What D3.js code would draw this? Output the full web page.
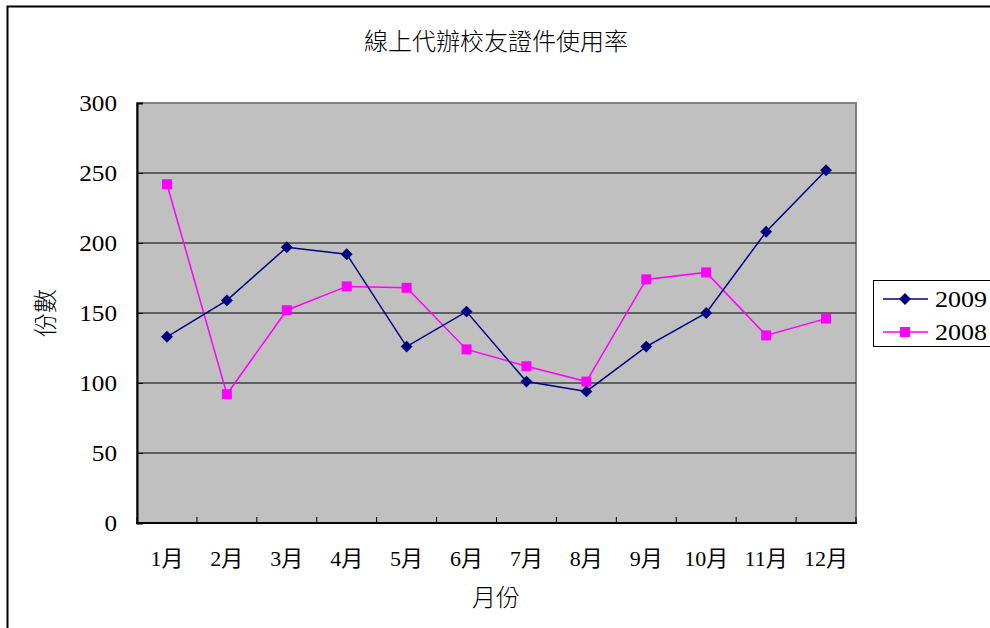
<!DOCTYPE html>
<html>
<head>
<meta charset="utf-8">
<script src="https://cdn.jsdelivr.net/npm/d3@7"></script>
<style>
  body { margin: 0; background: #fff; }
  svg text { font-family: 'Liberation Serif', 'Noto Sans CJK TC', serif; fill: #000; }
</style>
</head>
<body>
<div id="chart"></div>
<script>
const months = ['1月', '2月', '3月', '4月', '5月', '6月', '7月', '8月', '9月', '10月', '11月', '12月'];
const values2009 = [133, 159, 197, 192, 126, 151, 101, 94, 126, 150, 208, 252];
const values2008 = [242, 92, 152, 169, 168, 124, 112, 101, 174, 179, 134, 146];
const yTicks = [0, 50, 100, 150, 200, 250, 300];

const width = 990, height = 628;
const plot = { left: 137, top: 103, right: 856, bottom: 523 };

const svg = d3.select('#chart')
  .append('svg')
  .attr('width', width)
  .attr('height', height);

// outer chart border (top and left only are visible)
svg.append('path')
  .attr('d', `M7.5,${height} V6.5 H${width}`)
  .attr('fill', 'none')
  .attr('stroke', '#000')
  .attr('stroke-width', 2);

svg.append('text')
  .attr('x', 496)
  .attr('y', 50)
  .attr('text-anchor', 'middle')
  .attr('font-size', 24)
  .attr('font-weight', 300)
  .text('線上代辦校友證件使用率');

const x = d3.scaleBand().domain(months).range([plot.left, plot.right]);
const y = d3.scaleLinear().domain([0, 300]).range([plot.bottom, plot.top]);

// plot area
svg.append('rect')
  .attr('x', plot.left)
  .attr('y', plot.top)
  .attr('width', plot.right - plot.left)
  .attr('height', plot.bottom - plot.top)
  .attr('fill', '#c0c0c0')
  .attr('stroke', '#808080')
  .attr('stroke-width', 2);

// gridlines
svg.append('g')
  .selectAll('line')
  .data(yTicks.filter((d) => d > 0 && d < 300))
  .join('line')
  .attr('x1', plot.left)
  .attr('x2', plot.right)
  .attr('y1', (d) => y(d))
  .attr('y2', (d) => y(d))
  .attr('stroke', '#000')
  .attr('stroke-width', 1);

// y axis, ticks inside
const yAxis = svg.append('g')
  .attr('transform', `translate(${plot.left},0)`)
  .call(d3.axisRight(y).tickValues(yTicks).tickSize(6).tickFormat(''));
yAxis.select('.domain').attr('stroke-width', 2);

svg.append('g')
  .selectAll('text')
  .data(yTicks)
  .join('text')
  .attr('x', 117)
  .attr('y', (d) => y(d) + 8)
  .attr('text-anchor', 'end')
  .attr('font-size', 23)
  .attr('textLength', (d) => String(d).length * 12.6)
  .attr('lengthAdjust', 'spacingAndGlyphs')
  .text((d) => d);

// x axis, ticks inside at category boundaries
const boundaries = months.map((m) => x(m)).concat([plot.right]);
svg.append('g')
  .selectAll('line')
  .data(boundaries)
  .join('line')
  .attr('x1', (d) => d)
  .attr('x2', (d) => d)
  .attr('y1', plot.bottom)
  .attr('y2', plot.bottom - 6)
  .attr('stroke', '#000');
svg.append('line')
  .attr('x1', plot.left - 1)
  .attr('x2', plot.right + 1)
  .attr('y1', plot.bottom)
  .attr('y2', plot.bottom)
  .attr('stroke', '#000')
  .attr('stroke-width', 2);

svg.append('g')
  .selectAll('text')
  .data(months)
  .join('text')
  .attr('x', (d) => x(d) + x.bandwidth() / 2)
  .attr('y', 566)
  .attr('text-anchor', 'middle')
  .attr('font-size', 22)
  .text((d) => d);

svg.append('text')
  .attr('x', 496)
  .attr('y', 606)
  .attr('text-anchor', 'middle')
  .attr('font-size', 24)
  .attr('font-weight', 300)
  .text('月份');

svg.append('text')
  .attr('transform', 'translate(54,313) rotate(-90)')
  .attr('text-anchor', 'middle')
  .attr('font-size', 24)
  .attr('font-weight', 300)
  .text('份數');

// series
const cx = (i) => x(months[i]) + x.bandwidth() / 2;
const line = d3.line().x((d, i) => cx(i)).y((d) => y(d));

const series = [
  { name: '2009', values: values2009, color: '#000080', marker: 'diamond' },
  { name: '2008', values: values2008, color: '#ff00ff', marker: 'square' },
];

function drawMarker(g, type, color) {
  if (type === 'diamond') {
    g.append('path')
      .attr('d', d3.symbol(d3.symbolDiamond2, 90)())
      .attr('fill', color);
  } else {
    g.append('rect')
      .attr('x', -5).attr('y', -5)
      .attr('width', 10).attr('height', 10)
      .attr('fill', color);
  }
}

series.slice().reverse().forEach((s) => {
  svg.append('path')
    .datum(s.values)
    .attr('fill', 'none')
    .attr('stroke', s.color)
    .attr('stroke-width', 1.5)
    .attr('d', line);
});
series.slice().reverse().forEach((s) => {
  s.values.forEach((v, i) => {
    const g = svg.append('g').attr('transform', `translate(${cx(i)},${y(v)})`);
    drawMarker(g, s.marker, s.color);
  });
});

// legend
const legend = svg.append('g');
legend.append('rect')
  .attr('x', 873.5)
  .attr('y', 280.5)
  .attr('width', 120)
  .attr('height', 66)
  .attr('fill', '#fff')
  .attr('stroke', '#000');

series.forEach((s, i) => {
  const ly = 299 + i * 33;
  legend.append('line')
    .attr('x1', 883).attr('x2', 928)
    .attr('y1', ly).attr('y2', ly)
    .attr('stroke', s.color)
    .attr('stroke-width', 1.5);
  const g = legend.append('g').attr('transform', `translate(905,${ly})`);
  drawMarker(g, s.marker, s.color);
  legend.append('text')
    .attr('x', 935)
    .attr('y', ly + 8)
    .attr('font-size', 23)
    .attr('textLength', 52)
    .attr('lengthAdjust', 'spacingAndGlyphs')
    .text(s.name);
});
</script>
</body>
</html>
